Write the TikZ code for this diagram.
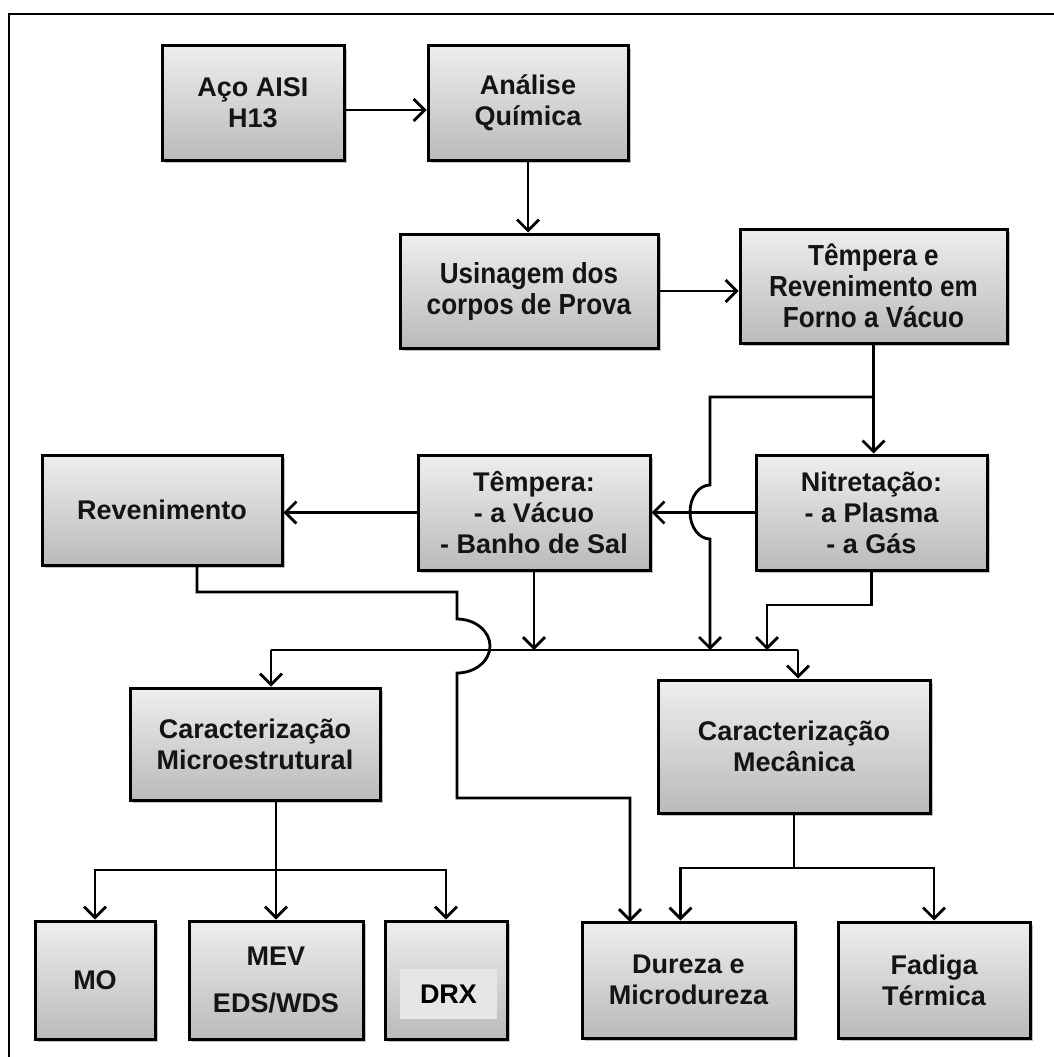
\documentclass[tikz,border=0pt]{standalone}
\usepackage{fontspec}
\setmainfont{Liberation Sans}
\newfontfamily\narrowsans[FakeStretch=0.9]{Liberation Sans}
\usetikzlibrary{arrows.meta,shadows}
\definecolor{gtop}{RGB}{238,238,238}
\definecolor{gbot}{RGB}{186,186,186}
\definecolor{drxbg}{RGB}{230,230,230}
\begin{document}
\begin{tikzpicture}[x=1pt,y=-1pt,
  box/.style={draw=black, line width=3pt, top color=gtop, bottom color=gbot,
    align=center, font=\fontsize{27}{31}\selectfont\bfseries, text=black!92,
    inner sep=2pt,
    drop shadow={shadow xshift=2.5pt,shadow yshift=-3pt,opacity=0.35,fill=black!70}},
  narrowtext/.style={font=\narrowsans\fontsize{29}{31}\selectfont\bfseries},
  arr/.style={line width=2.8pt, -{Straight Barb[length=11pt,width=22pt]}},
  ln/.style={line width=2.8pt}]
\useasboundingbox (0,0) rectangle (1053,1057);
% frame
\draw[line width=2.5pt] (9,1060) -- (9,14) -- (1060,14);
% boxes
\node[box, minimum width=182pt, minimum height=114pt] (aco) at (253,103) {Aço AISI\\H13};
\node[box, minimum width=200pt, minimum height=114pt] (analise) at (528,103) {Análise\\Química};
\node[box, narrowtext, minimum width=258pt, minimum height=114pt] (usin) at (529,291) {Usinagem dos\\corpos de Prova};
\node[box, narrowtext, minimum width=267pt, minimum height=114pt] (temprev) at (873.5,286) {Têmpera e\\Revenimento em\\Forno a Vácuo};
\node[box, minimum width=231pt, minimum height=115pt] (nitr) at (871.5,512.5) {Nitretação:\\- a Plasma\\- a Gás};
\node[box, minimum width=232pt, minimum height=115pt] (temp) at (534,512.5) {Têmpera:\\- a Vácuo\\- Banho de Sal};
\node[box, minimum width=240pt, minimum height=110pt] (reven) at (162,510) {Revenimento};
\node[box, minimum width=250pt, minimum height=112pt] (cmicro) at (255,744) {Caracterização\\Microestrutural};
\node[box, minimum width=272pt, minimum height=133pt] (cmec) at (794,746.5) {Caracterização\\Mecânica};
\node[box, minimum width=120pt, minimum height=118pt] (mo) at (95,980) {MO};
\node[box, minimum width=174pt, minimum height=118pt] (mev) at (276,980) {MEV\\[16pt]EDS/WDS};
\node[box, minimum width=122pt, minimum height=118pt] (drx) at (446,980) {};
\node[fill=drxbg, minimum width=97pt, minimum height=50pt, inner sep=0pt,
  font=\fontsize{27}{31}\selectfont\bfseries, text=black] (drxt) at (448.5,994) {DRX};
\node[box, minimum width=213pt, minimum height=116pt] (dur) at (688.5,980) {Dureza e\\Microdureza};
\node[box, minimum width=192pt, minimum height=116pt] (fad) at (934,980) {Fadiga\\Térmica};
% coordinates
\coordinate (busL) at (271,650);
\coordinate (busR) at (798,650);
\coordinate (mb) at (276,870);
\coordinate (mc) at (794,868);
% top chain
\draw[arr] ([yshift=-7pt]aco.east) -- ([yshift=-7pt]analise.west);
\draw[arr] (analise.south) -- (analise.south |- usin.north);
\draw[arr] (usin.east) -- (usin.east -| temprev.west);
\draw[arr] (temprev.south) -- (temprev.south |- nitr.north);
% branch from temprev down to bus with hop
\draw[arr] (873.5,397) -- (710,397) -- (710,485)
  .. controls (699,485) and (690,497) .. (690,512)
  .. controls (690,527) and (699,539) .. (710,539) -- (710 ,650);
\draw[arr] (nitr.west) -- (temp.east);
\draw[arr] (temp.west) -- (temp.west -| reven.east);
\draw[arr] (temp.south) -- (temp.south |- busL);
\draw[arr] (nitr.south) -- (871.5,605) -- (767,605) -- (767,650);
% bus
\draw[ln] (busL) -- (busR);
\draw[arr] (busL) -- (busL |- cmicro.north);
\draw[arr] (busR) -- (busR |- cmec.north);
% revenimento path with hop
\draw[arr] ([xshift=35pt]reven.south) -- (197,592) -- (457,592) -- (457,619)
  .. controls (475,619) and (490,631) .. (490,646)
  .. controls (490,661) and (475,673) .. (457,673) -- (457,798) -- (630,798)
  -- (630,922);
% microstructure
\draw[arr] (cmicro.south -| mev.north) -- (mev.north);
\draw[arr] (mb) -| (mo.north);
\draw[arr] (mb) -| (drx.north);
% mechanical
\draw[ln] (cmec.south) -- (mc);
\draw[arr] (mc) -| ([xshift=-8pt]dur.north);
\draw[arr] (mc) -| (fad.north);
\end{tikzpicture}
\end{document}
